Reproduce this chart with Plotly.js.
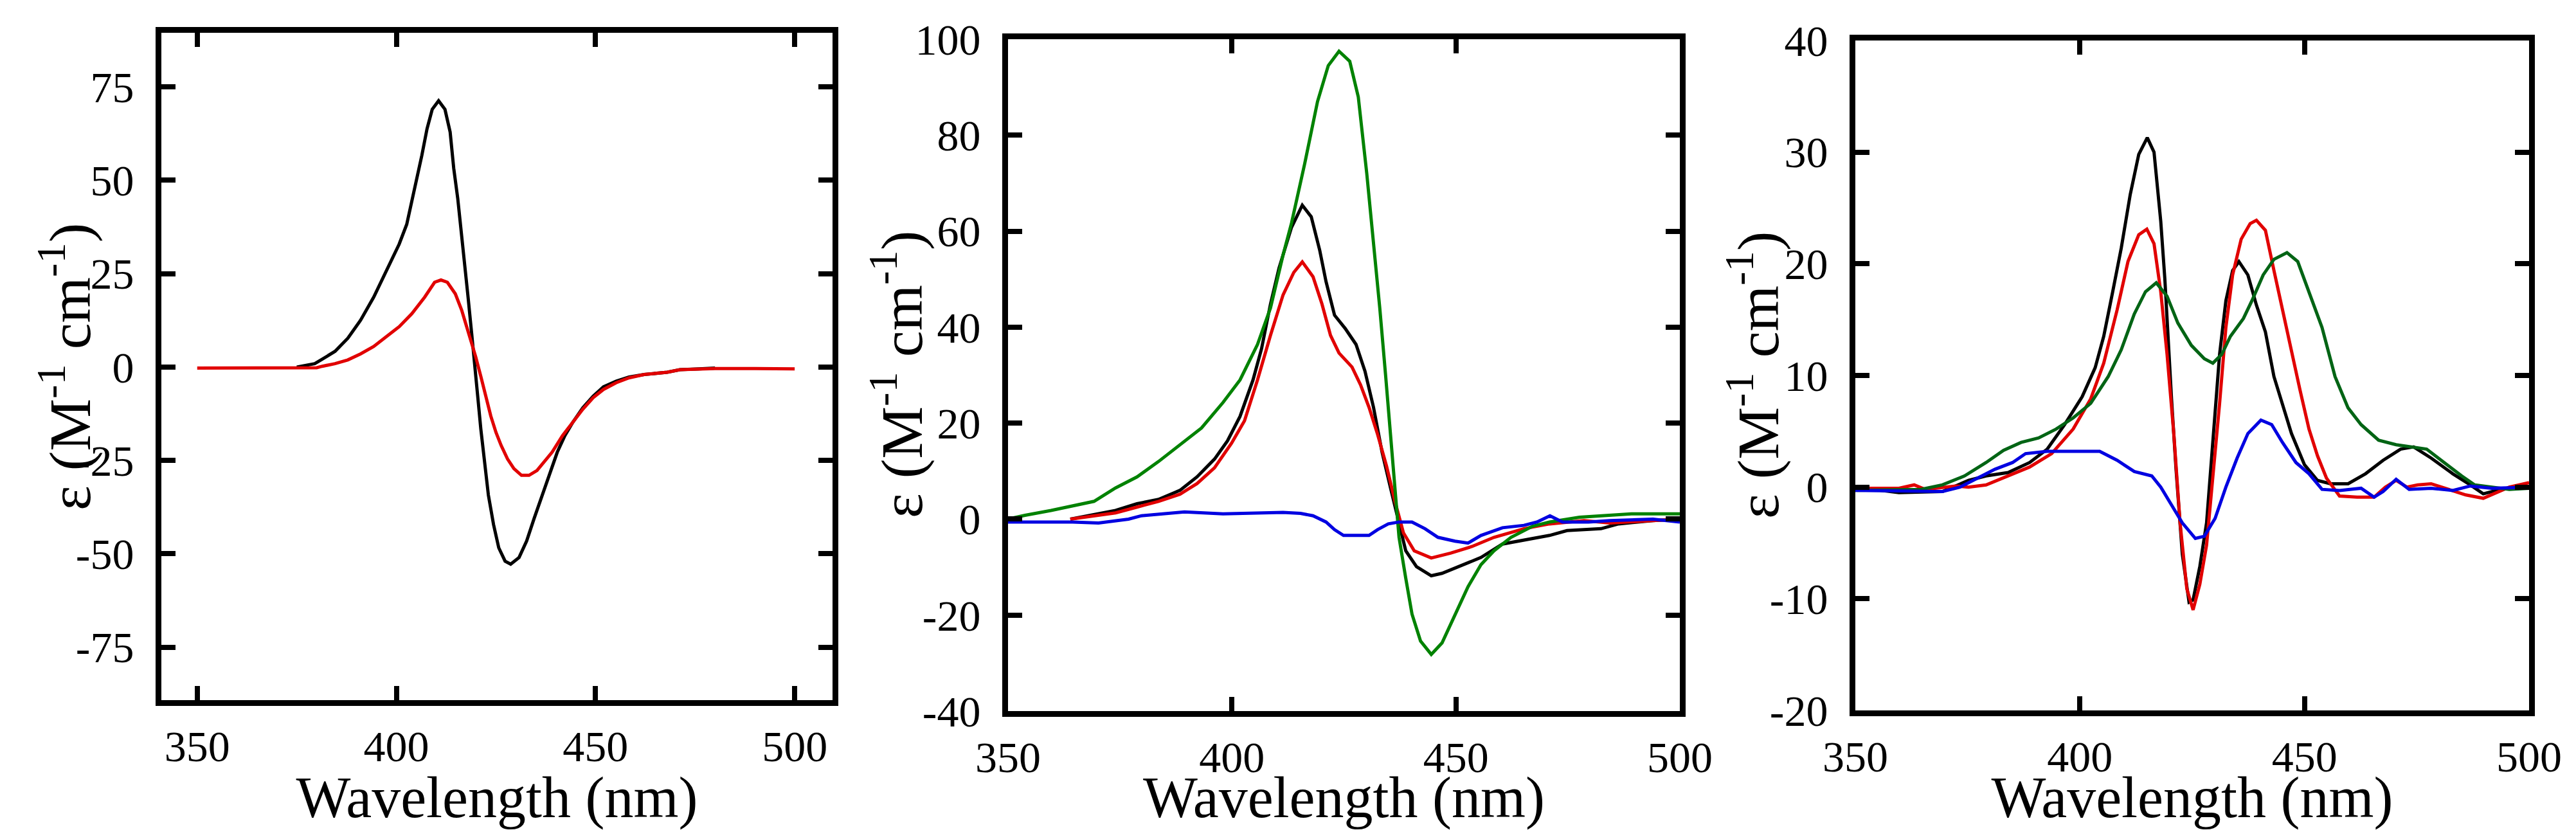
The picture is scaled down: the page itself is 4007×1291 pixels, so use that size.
<!DOCTYPE html>
<html>
<head>
<meta charset="utf-8">
<script src="https://cdn.plot.ly/plotly-3.0.1.min.js"></script>
<style>html,body{margin:0;padding:0;background:#fff;}#chart{width:4007px;height:1291px;}</style>
</head>
<body>
<div id="chart"></div>
<script>
// ---------- Panel 1 ----------
const p1BlackX = [375, 379.5, 381.4, 384.6, 387.8, 391, 394.3, 397.5, 400.7, 402.6, 404.5, 406.4, 407.7, 409, 410.6, 412.2, 413.5, 414.4, 415.4, 416.4, 417.3, 418, 418.9, 419.6, 420.5, 421.2, 422.1, 423.1, 424.4, 425.7, 427.3, 428.7, 430.8, 432.7, 434.6, 436.6, 438.5, 440.4, 442.3, 444.3, 446.8, 449.4, 452, 455.2, 458.4, 462.2, 468, 471.2, 476, 480];
const p1BlackY = [0, 0.9, 2.1, 4.2, 7.7, 12.5, 18.7, 25.8, 32.9, 38.2, 47, 56.7, 63.8, 69, 71.3, 69, 62.9, 53.2, 45.2, 35.5, 26.7, 18.7, 9, 0.2, -8.7, -16.6, -25.4, -34.3, -42.2, -48.4, -52, -52.8, -51, -46.6, -40.5, -34.3, -28.1, -22.8, -18.4, -14.8, -10.9, -7.8, -5.3, -3.8, -2.7, -2, -1.4, -0.7, -0.5, -0.3];
const p1RedX = [350, 365, 380, 381.4, 384.6, 387.8, 391, 394.3, 397.5, 400.7, 403.9, 407.1, 409.6, 411.2, 412.8, 414.8, 416.4, 417.7, 418.9, 419.9, 421.2, 422.5, 423.7, 425, 426.3, 427.9, 429.5, 431.4, 433.3, 435.3, 437.2, 439.1, 441.7, 444.3, 446.8, 449.4, 452, 455.2, 458.4, 462.2, 468, 471.2, 480, 490, 500];
const p1RedY = [-0.3, -0.3, -0.2, 0.2, 0.9, 1.9, 3.5, 5.5, 8.1, 10.8, 14.3, 18.7, 22.7, 23.3, 22.7, 19.6, 15.2, 10.8, 6.4, 2.8, -2.5, -7.8, -13.1, -17.5, -21, -24.6, -27.2, -29, -29, -27.7, -25.4, -22.8, -18.4, -14.8, -11.3, -8.2, -6, -4.2, -2.9, -2, -1.4, -0.7, -0.4, -0.4, -0.5];

// ---------- Panel 2 ----------
const p2BlackX = [363.9, 369.2, 374, 378.8, 383.6, 388.4, 392.2, 396.1, 399, 401.8, 404.7, 406.6, 408.6, 410.5, 413.3, 415.7, 417.7, 419.6, 421, 422.9, 425.3, 427.7, 429.7, 431.6, 433.5, 435.4, 436.9, 438.8, 441.2, 444.5, 446.9, 450.8, 455.6, 460.4, 465.2, 470.9, 474.8, 482.4, 486.3, 494, 500];
const p2BlackY = [0, 1, 1.8, 3.2, 4.1, 6, 8.8, 12.5, 16.3, 21.4, 29, 35.5, 44.8, 52.3, 60.8, 65.4, 63, 56, 49.5, 42.5, 39.7, 36.4, 30.8, 23.3, 14, 6.5, 0.8, -6.6, -9.9, -11.8, -11.3, -9.9, -8, -5.2, -4.3, -3.4, -2.4, -2, -1, -0.3, 0];
const p2RedX = [363.9, 369.2, 374, 378.8, 383.6, 388.4, 392.2, 396.1, 399.9, 402.8, 405.7, 408.6, 411.4, 413.8, 415.7, 418.1, 420.1, 422, 423.9, 426.8, 428.7, 430.6, 432.5, 434.5, 436.4, 438.3, 440.7, 444.5, 448.8, 453.6, 458.5, 465.2, 470.9, 478.6, 484.4, 494, 500];
const p2RedY = [0, 0.6, 1.3, 2.5, 3.7, 5.2, 7.4, 10.7, 15.8, 20.5, 29, 38.3, 46.7, 51.4, 53.6, 50.5, 44.8, 38.3, 34.6, 31.7, 28, 23.3, 17.7, 11.1, 3.7, -2.9, -6.6, -8.1, -7.1, -5.7, -3.8, -2, -1, -0.3, -0.8, -0.3, 0];
const p2GreenX = [350, 353.8, 359.6, 364.4, 369.2, 374, 378.8, 383.6, 388.4, 393.2, 398, 401.8, 405.7, 408.6, 411.4, 413.3, 416.2, 419.1, 421.5, 423.9, 426.3, 428.2, 430.1, 431.6, 433, 434.3, 435.4, 436.4, 437.3, 438.8, 440.2, 442.1, 444.5, 446.9, 449.8, 452.7, 455.6, 458.5, 462.3, 467.1, 470.9, 477.6, 489.2, 500];
const p2GreenY = [0, 0.8, 1.8, 2.7, 3.7, 6.5, 8.8, 12, 15.4, 19, 24.3, 29, 36.4, 44, 55, 61.7, 73.9, 87, 94.5, 97.5, 95.4, 88, 72, 58, 44, 30, 17.7, 6.5, -3.8, -12.3, -19.8, -25.4, -28.2, -25.8, -19.8, -14.1, -9.5, -6.6, -3.8, -1.5, -0.6, 0.4, 1.1, 1.1];
const p2BlueX = [350, 364.4, 370.2, 376.9, 379.8, 388.4, 389.4, 398, 411.4, 415.3, 418.1, 421, 422.9, 424.9, 430.6, 432.5, 434.9, 437.3, 440.2, 443.1, 446, 449.8, 452.7, 455.6, 460.4, 465.2, 468.1, 471, 473.8, 479.6, 484.4, 494, 500];
const p2BlueY = [-0.6, -0.6, -0.8, 0, 0.7, 1.3, 1.5, 1.1, 1.4, 1.2, 0.7, -0.6, -2.2, -3.4, -3.4, -2.2, -1, -0.6, -0.6, -2, -3.8, -4.6, -5, -3.4, -1.8, -1.3, -0.6, 0.7, -0.6, -0.6, -0.3, 0, -0.6];

// ---------- Panel 3 ----------
const p3BlackX = [350, 359.7, 369.4, 375.2, 379.1, 384, 388.8, 392.7, 396.6, 400.5, 403.4, 405.3, 407.3, 409.2, 411.2, 413.1, 415, 416.5, 418, 418.9, 420.4, 421.4, 422.8, 424.3, 425.2, 426.7, 428.2, 429.6, 431.1, 432.5, 434, 435.4, 437.4, 439.3, 441.3, 443.2, 445.1, 447.1, 450, 452.9, 455.8, 459.7, 463.6, 467.5, 471.4, 474.3, 478.2, 483, 486.9, 489.8, 493.7, 500];
const p3BlackY = [0, -0.5, -0.4, 0.6, 1, 1.3, 2.2, 3.4, 5.6, 8.1, 10.7, 13.5, 17.5, 21.4, 26.2, 29.8, 31.3, 30, 23.8, 18.7, 7.9, 1.6, -6, -10.3, -10.1, -7.1, -3.2, 4, 11.9, 16.7, 19.4, 20.2, 19, 16.3, 13.9, 9.9, 7.5, 4.8, 2, 0.6, 0.3, 0.3, 1.2, 2.4, 3.4, 3.6, 2.6, 1.2, 0.2, -0.6, -0.2, 0];
const p3RedX = [350, 359.7, 363.1, 365.5, 372.3, 375.2, 379.1, 384, 388.8, 393.7, 398.5, 402.4, 405.3, 408.3, 410.7, 413.1, 414.9, 416.5, 418, 419.4, 420.9, 422.3, 423.8, 425.2, 426.7, 428.2, 429.6, 431.1, 432.5, 434, 435.9, 437.9, 439.3, 441.3, 443.2, 445.1, 447.1, 449, 451, 452.9, 454.9, 457.8, 461.7, 465.5, 468, 470.4, 472.8, 475.2, 478.2, 482, 485.9, 489.8, 492.7, 495.6, 500];
const p3RedY = [-0.1, -0.1, 0.2, -0.2, 0.1, 0, 0.2, 1, 1.8, 3, 5.2, 7.9, 11.1, 15.9, 20.2, 22.6, 23.1, 21.8, 17.5, 11.9, 4.8, -3.2, -9.1, -11, -8.7, -5.2, 0.8, 7.5, 14.3, 19, 22.2, 23.6, 23.9, 23, 19.4, 15.9, 11.9, 8.7, 5.2, 2.8, 0.8, -0.8, -0.9, -0.9, 0, 0.6, 0, 0.2, 0.3, -0.2, -0.7, -1, -0.5, 0, 0.4];
const p3GreenX = [350, 364.6, 369.4, 374.3, 379.1, 383, 386.9, 390.8, 394.7, 398.5, 402.4, 406.3, 409.2, 412.1, 414.6, 417, 419.4, 421.8, 424.8, 427.7, 429.6, 431.6, 433.5, 436.4, 438.3, 440.8, 443.2, 446.1, 448.5, 451, 453.9, 456.8, 459.7, 462.6, 466.5, 470.4, 474.3, 477.2, 481.1, 485, 487.9, 491.7, 495.6, 500];
const p3GreenY = [-0.3, -0.2, 0.2, 1, 2.2, 3.3, 4, 4.4, 5.2, 6.2, 7.5, 9.9, 12.3, 15.5, 17.5, 18.3, 17.1, 14.7, 12.7, 11.5, 11.1, 11.9, 13.5, 15.1, 16.7, 19, 20.4, 21, 20.2, 17.5, 14.3, 9.9, 7.1, 5.6, 4.2, 3.8, 3.6, 3.4, 2.2, 1, 0.2, 0, -0.2, -0.1];
const p3BlueX = [350, 369.4, 373.3, 377.2, 381.1, 385, 387.9, 392.7, 404.4, 408.3, 412.1, 416, 418, 420.4, 422.8, 425.7, 427.7, 430.1, 432.5, 435, 437.4, 440.3, 442.7, 445.1, 448.1, 451, 453.9, 457.8, 462.6, 465.5, 467.5, 470.4, 473.3, 478.2, 483, 486.9, 491.7, 500];
const p3BlueY = [-0.3, -0.4, 0, 0.8, 1.6, 2.2, 3, 3.2, 3.2, 2.4, 1.4, 1, 0, -1.6, -3.2, -4.6, -4.4, -2.8, 0, 2.6, 4.8, 6, 5.6, 4, 2.2, 1.2, -0.2, -0.3, -0.1, -0.9, -0.4, 0.7, -0.2, -0.1, -0.3, 0.1, -0.1, 0];

// ---------- Ticks and titles ----------
const xTickVals = [350, 400, 450, 500];
const xTickText = ['350', '400', '450', '500'];
const p1YTickVals = [75, 50, 25, 0, -25, -50, -75];
const p1YTickText = ['75', '50', '25', '0', '-25', '-50', '-75'];
const p2YTickVals = [100, 80, 60, 40, 20, 0, -20, -40];
const p2YTickText = ['100', '80', '60', '40', '20', '0', '-20', '-40'];
const p3YTickVals = [40, 30, 20, 10, 0, -10, -20];
const p3YTickText = ['40', '30', '20', '10', '0', '-10', '-20'];

const xTitle = 'Wavelength (nm)';
const yTitle = 'ε (M<sup>-1</sup> cm<sup>-1</sup>)';

const BLACK = '#000000', RED = 'rgb(225,0,0)', BLUE = 'rgb(0,0,225)';
const GREEN2 = 'rgb(0,130,0)', GREEN3 = 'rgb(0,100,20)';
const FONT = 'Liberation Serif, Times New Roman, serif';

function tr(x, y, color, xa, ya) {
  return {x: x, y: y, type: 'scatter', mode: 'lines', line: {color: color, width: 5},
          xaxis: xa, yaxis: ya, showlegend: false, hoverinfo: 'skip'};
}

const data = [
  tr(p1BlackX, p1BlackY, BLACK, 'x', 'y'),
  tr(p1RedX, p1RedY, RED, 'x', 'y'),
  tr(p2BlackX, p2BlackY, BLACK, 'x2', 'y2'),
  tr(p2RedX, p2RedY, RED, 'x2', 'y2'),
  tr(p2GreenX, p2GreenY, GREEN2, 'x2', 'y2'),
  tr(p2BlueX, p2BlueY, BLUE, 'x2', 'y2'),
  tr(p3BlackX, p3BlackY, BLACK, 'x3', 'y3'),
  tr(p3RedX, p3RedY, RED, 'x3', 'y3'),
  tr(p3GreenX, p3GreenY, GREEN3, 'x3', 'y3'),
  tr(p3BlueX, p3BlueY, BLUE, 'x3', 'y3')
];

function xax(domain, range, anchor) {
  return {domain: domain, range: range, anchor: anchor, tickmode: 'array',
    tickvals: xTickVals, ticktext: xTickText, ticks: 'inside', ticklen: 22, tickwidth: 8,
    tickcolor: '#000', showline: true, linewidth: 9, linecolor: '#000', mirror: 'ticks',
    showgrid: false, zeroline: false, ticklabelstandoff: 4,
    tickfont: {family: FONT, size: 68, color: '#000'},
    title: {text: xTitle, font: {family: FONT, size: 90, color: '#000'}, standoff: 12}};
}
function yax(domain, range, anchor, vals, text) {
  return {domain: domain, range: range, anchor: anchor, tickmode: 'array',
    tickvals: vals, ticktext: text, ticks: 'inside', ticklen: 22, tickwidth: 8,
    tickcolor: '#000', showline: true, linewidth: 9, linecolor: '#000', mirror: 'ticks',
    showgrid: false, zeroline: false, ticklabelstandoff: 20,
    tickfont: {family: FONT, size: 68, color: '#000'}};
}

function ytitle(xpx, ypx) {
  return {text: yTitle, xref: 'paper', yref: 'paper', x: xpx / 4007, y: 1 - ypx / 1291,
    xanchor: 'center', yanchor: 'middle', textangle: -90, showarrow: false,
    font: {family: FONT, size: 92, color: '#000'}};
}

const layout = {
  width: 4007, height: 1291,
  margin: {l: 0, r: 0, t: 0, b: 0},
  paper_bgcolor: '#fff', plot_bgcolor: '#fff',
  showlegend: false,
  xaxis: xax([0.06264, 0.32319], [341, 509.5], 'y'),
  yaxis: yax([0.15647, 0.96050], [-89.2, 89.5], 'x', p1YTickVals, p1YTickText),
  xaxis2: xax([0.39132, 0.65211], [350, 500], 'y2'),
  yaxis2: yax([0.14330, 0.95275], [-40, 100], 'x2', p2YTickVals, p2YTickText),
  xaxis3: xax([0.72024, 0.98178], [350, 500], 'y3'),
  yaxis3: yax([0.14408, 0.95120], [-20, 40], 'x3', p3YTickVals, p3YTickText),
  annotations: [ytitle(102, 571), ytitle(1396, 583), ytitle(2728, 584)]
};

Plotly.newPlot('chart', data, layout, {staticPlot: true, displayModeBar: false});
</script>
</body>
</html>
